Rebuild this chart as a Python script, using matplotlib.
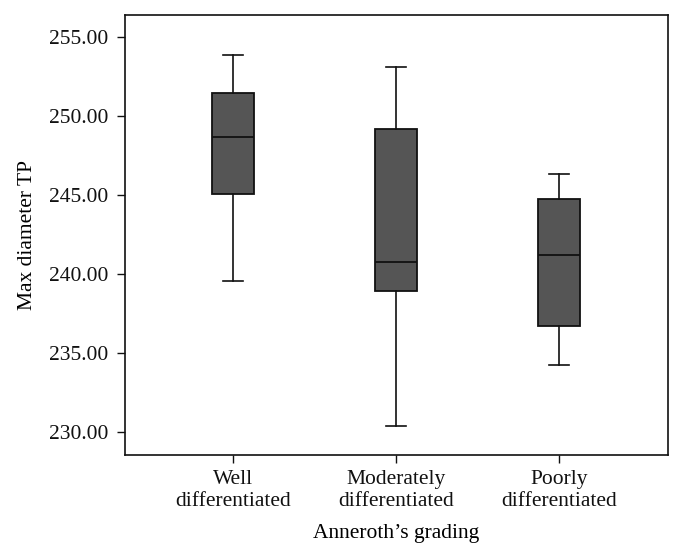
import matplotlib
matplotlib.use("Agg")
import matplotlib.pyplot as plt

categories = ["Well\ndifferentiated", "Moderately\ndifferentiated", "Poorly\ndifferentiated"]
whisker_low = [239.56, 230.34, 234.22]
q1 = [245.04, 238.94, 236.71]
median = [248.69, 240.76, 241.22]
q3 = [251.44, 249.18, 244.75]
whisker_high = [253.88, 253.10, 246.35]
yticks = [230, 235, 240, 245, 250, 255]

plt.rcParams['font.family'] = ['Liberation Serif', 'DejaVu Serif']

fig = plt.figure(figsize=(6.82, 5.6), dpi=100)
ax = fig.add_axes([0.1828, 0.1875, 0.7962, 0.7862])

stats = []
for i in range(len(categories)):
    stats.append(dict(whislo=whisker_low[i], q1=q1[i], med=median[i],
                      q3=q3[i], whishi=whisker_high[i], fliers=[], label=categories[i]))

ax.bxp(stats, positions=[1, 2, 3], widths=0.253, patch_artist=True, showfliers=False,
       boxprops=dict(facecolor='#555555', edgecolor='#111111', linewidth=1.3),
       medianprops=dict(color='#111111', linewidth=1.3),
       whiskerprops=dict(color='#111111', linewidth=1.2),
       capprops=dict(color='#111111', linewidth=1.2),
       capwidths=0.127)

ax.set_xlim(0.336, 3.667)
ax.set_ylim(228.52, 256.43)
ax.set_yticks(yticks)
ax.set_yticklabels([f"{v:.2f}" for v in yticks])
ax.tick_params(axis='both', direction='out', length=5.5, width=1.0, labelsize=15.5, colors='#111111')
ax.tick_params(axis='y', pad=6)
ax.tick_params(axis='x', pad=5)
for s in ax.spines.values():
    s.set_linewidth(1.2)
    s.set_color('#111111')
for lbl in ax.get_xticklabels():
    lbl.set_linespacing(1.25)

ax.set_ylabel("Max diameter TP", fontsize=15.5, labelpad=9)
ax.set_xlabel("Anneroth’s grading", fontsize=15.5, labelpad=9)

fig.savefig("out.png", dpi=100)
